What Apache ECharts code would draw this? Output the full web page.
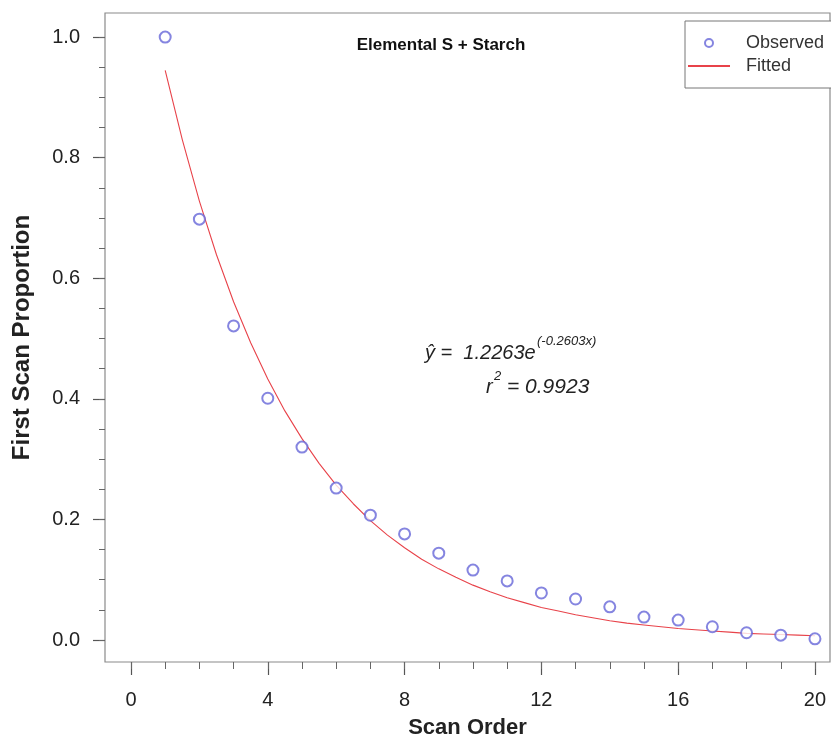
<!DOCTYPE html>
<html>
<head>
<meta charset="utf-8">
<script src="https://cdn.jsdelivr.net/npm/echarts@6/dist/echarts.min.js"></script>
<style>html,body{margin:0;padding:0;background:#fff}#chart{width:831px;height:746px}</style>
</head>
<body>
<div id="chart"></div>
<script>
// Data
const scanOrder = [1,2,3,4,5,6,7,8,9,10,11,12,13,14,15,16,17,18,19,20];
const observed = [1.000,0.698,0.521,0.401,0.320,0.252,0.207,0.176,0.144,0.116,0.098,0.078,0.068,0.055,0.038,0.033,0.022,0.012,0.008,0.002];
// fitted curve read at half steps along the drawn red line
const fittedX = [1,1.5,2,2.5,3,3.5,4,4.5,5,5.5,6,6.5,7,7.5,8,8.5,9,9.5,10,10.5,11,11.5,12,12.5,13,13.5,14,14.5,15,15.5,16,16.5,17,17.5,18,18.5,19,19.5,20];
const fittedY = [0.945,0.830,0.728,0.639,0.561,0.493,0.433,0.380,0.334,0.293,0.257,0.226,0.198,0.174,0.153,0.134,0.118,0.104,0.091,0.080,0.070,0.062,0.054,0.048,0.042,0.037,0.032,0.028,0.025,0.022,0.019,0.017,0.015,0.013,0.011,0.010,0.009,0.008,0.007];
// axis ranges and tick labels
const xRange = [-0.76, 20.44];
const yRange = [-0.0365, 1.04];
const xTicks = [0,4,8,12,16,20];
const xMinorTicks = [0,1,2,3,4,5,6,7,8,9,10,11,12,13,14,15,16,17,18,19,20];
const yTicks = [0.0,0.2,0.4,0.6,0.8,1.0];
const yMinorTicks = [0,0.05,0.1,0.15,0.2,0.25,0.3,0.35,0.4,0.45,0.5,0.55,0.6,0.65,0.7,0.75,0.8,0.85,0.9,0.95,1.0];
const titleText = 'Elemental S + Starch';
const xName = 'Scan Order';
const yName = 'First Scan Proportion';

const chart = echarts.init(document.getElementById('chart'));
const FONT = 'Liberation Sans, Arial, Helvetica, sans-serif';
const frameGray = '#8a8a8a';
const textCol = '#222';

const obsData = scanOrder.map((x,i)=>[x, observed[i]]);
const fitData = fittedX.map((x,i)=>[x, fittedY[i]]);

const noLine = {show:false, onZero:false};

chart.setOption({
  animation: false,
  backgroundColor: '#fff',
  textStyle: {fontFamily: FONT},
  grid: [
    {left:105, right:1, top:13, bottom:84, show:true, borderColor:frameGray, borderWidth:1.2,
     backgroundColor:'transparent', outerBoundsMode:'none', containLabel:false}
  ],
  xAxis: [
    {type:'value', gridIndex:0, position:'bottom', min:xRange[0], max:xRange[1],
     axisLine:noLine, splitLine:{show:false},
     axisTick:{show:true, customValues:xTicks, length:13, lineStyle:{color:'#555', width:1.2}},
     axisLabel:{customValues:xTicks, margin:28, fontSize:20, color:textCol, fontFamily:FONT},
     name:xName, nameLocation:'middle', nameGap:55, nameMoveOverlap:false,
     nameTextStyle:{fontSize:22, fontWeight:'bold', color:textCol, fontFamily:FONT}},
    {type:'value', gridIndex:0, position:'bottom', min:xRange[0], max:xRange[1],
     axisLine:noLine, splitLine:{show:false},
     axisTick:{show:true, customValues:xMinorTicks, length:7, lineStyle:{color:'#666', width:1}},
     axisLabel:{show:false}}
  ],
  yAxis: [
    {type:'value', gridIndex:0, position:'left', min:yRange[0], max:yRange[1],
     axisLine:noLine, splitLine:{show:false},
     axisTick:{show:true, customValues:yTicks, length:12, lineStyle:{color:'#555', width:1.2}},
     axisLabel:{customValues:yTicks, margin:25, fontSize:20, color:textCol, fontFamily:FONT, formatter:v=>v.toFixed(1)},
     name:yName, nameLocation:'middle', nameGap:71, nameMoveOverlap:false,
     nameTextStyle:{fontSize:24, fontWeight:'bold', color:textCol, fontFamily:FONT}},
    {type:'value', gridIndex:0, position:'left', min:yRange[0], max:yRange[1],
     axisLine:noLine, splitLine:{show:false},
     axisTick:{show:true, customValues:yMinorTicks, length:6, lineStyle:{color:'#666', width:1}},
     axisLabel:{show:false}}
  ],
  legend: {
    orient:'vertical', left:685, top:21,
    padding:[13,40,13,2], itemGap:5, itemWidth:42, itemHeight:8,
    borderColor:'#777', borderWidth:1, backgroundColor:'#fff',
    textStyle:{fontSize:18, color:'#333', fontFamily:FONT, padding:[0,0,0,11]},
    data:[{name:'Observed'},{name:'Fitted', itemStyle:{opacity:0}}]
  },
  graphic: [
    {type:'text', x:441, y:45, style:{text:titleText, font:'bold 17px '+FONT, fill:'#111', align:'center', verticalAlign:'middle'}, z:10},
    {type:'text', x:425, y:353, style:{text:'ŷ =  1.2263e', font:'italic 20px '+FONT, fill:'#222', align:'left', verticalAlign:'middle'}},
    {type:'text', x:537, y:341, style:{text:'(-0.2603x)', font:'italic 13px '+FONT, fill:'#222', align:'left', verticalAlign:'middle'}},
    {type:'text', x:486, y:387, style:{text:'r', font:'italic 20px '+FONT, fill:'#222', align:'left', verticalAlign:'middle'}},
    {type:'text', x:494, y:376, style:{text:'2', font:'italic 13px '+FONT, fill:'#222', align:'left', verticalAlign:'middle'}},
    {type:'text', x:507, y:387, style:{text:'= 0.9923', font:'italic 21px '+FONT, fill:'#222', align:'left', verticalAlign:'middle'}}
  ],
  series: [
    {name:'Observed', type:'scatter', xAxisIndex:0, yAxisIndex:0, data:obsData,
     symbol:'emptyCircle', symbolSize:11,
     itemStyle:{color:'#6666d8', borderColor:'#6666d8', borderWidth:1.2}, z:3},
    {name:'Fitted', type:'line', xAxisIndex:0, yAxisIndex:0, data:fitData,
     smooth:false, symbol:'none', showSymbol:false,
     lineStyle:{color:'#e8434a', width:1.1}, itemStyle:{color:'#e8434a'}, z:2}
  ]
});
</script>
</body>
</html>
